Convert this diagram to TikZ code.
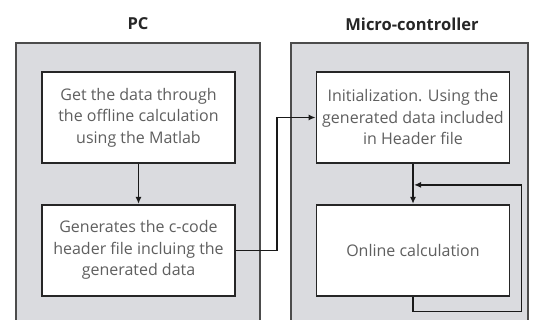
\documentclass[tikz,border=0pt]{standalone}
\usepackage{fontspec}
\setmainfont{Open Sans}
\usetikzlibrary{positioning, arrows.meta}
\definecolor{panelgray}{RGB}{218,219,223}
\definecolor{stagetext}{RGB}{95,95,95}

\begin{document}
\begin{tikzpicture}[x=1pt, y=-1pt, node distance=40pt,
		>={Latex[length=7pt,width=6pt]},
		panel/.style={draw=black!70, line width=1.8pt, fill=panelgray},
		stage/.style={draw=black!85, line width=1.8pt, fill=white, text=stagetext,
			minimum width=193pt, minimum height=91pt, align=center, inner sep=1pt,
			font=\fontsize{16}{21.5}\selectfont},
		heading/.style={font=\fontsize{16.5}{19}\selectfont\bfseries, text=black!85},
		link/.style={->, line width=1.5pt, draw=black!90}]
		\clip (0,0) rectangle (533,320);
		% the two sides
		\draw[panel] (16,43) rectangle (260,335);
		\draw[panel] (291,43) rectangle (528,335);
		\node[heading] (pc) at (138,24) {PC};
		\node[heading] (mc) at (412,24) {Micro-controller};
		% stages
		\node[stage] (pc1) at (138.5,117.5) {Get the data through\\the offline calculation\\using the Matlab};
		\node[stage, below=of pc1] (pc2) {Generates the c-code\\header file incluing the\\generated data};
		\node[stage] (mc1) at (413,117.5) {Initialization. Using the\\generated data included\\in Header file};
		\node[stage, below=of mc1] (mc2) {Online calculation};
		\coordinate[below=21pt of mc1] (join);
		% connectors
		\draw[link] (pc1) -- (pc2);
		\draw[link] (pc2.east) -- ++(41,0) |- (mc1.west);
		\draw[link] (mc1) -- (mc2);
		\draw[link] (mc2.south) -- ++(0,15) -| ([xshift=11pt]mc2.east |- join) -- ([xshift=1pt]join);
	\end{tikzpicture}
\end{document}
